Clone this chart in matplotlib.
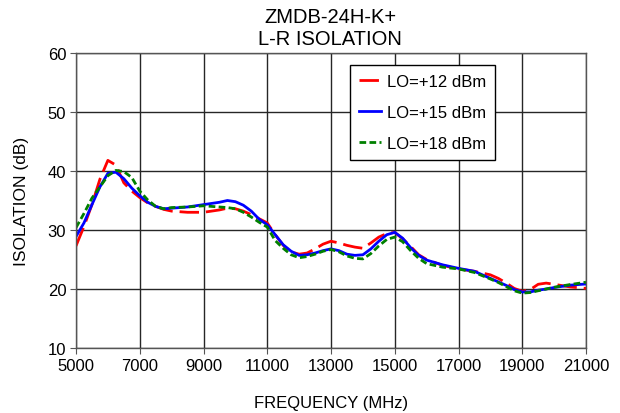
import matplotlib
matplotlib.use("Agg")
import matplotlib.pyplot as plt

plt.rcParams['font.family'] = ['Liberation Sans', 'DejaVu Sans']

freq = [5000, 5250, 5500, 5750, 6000, 6250, 6500, 6750, 7000, 7250, 7500, 7750,
        8000, 8500, 9000, 9500, 9750, 10000, 10250, 10500, 10750, 11000, 11250,
        11500, 11750, 12000, 12250, 12500, 12750, 13000, 13250, 13500, 13750,
        14000, 14250, 14500, 14750, 15000, 15250, 15500, 15750, 16000, 16500,
        17000, 17500, 18000, 18250, 18500, 18750, 19000, 19250, 19500, 19750,
        20000, 20500, 21000]

lo12 = [27.3, 30.6, 34.3, 38.6, 41.8, 41.0, 38.0, 36.6, 35.5, 34.6, 34.0, 33.5,
        33.2, 33.0, 33.0, 33.4, 33.7, 33.6, 33.2, 32.6, 31.9, 31.2, 29.2,
        27.4, 26.3, 25.9, 26.1, 26.8, 27.6, 28.1, 27.8, 27.4, 27.1,
        26.9, 27.8, 28.8, 29.4, 29.6, 28.5, 27.2, 25.8, 25.0, 24.0,
        23.4, 23.0, 22.4, 21.8, 21.0, 20.1, 19.6, 19.9, 20.8, 21.0,
        20.8, 20.35, 20.1]

lo15 = [28.9, 31.2, 34.3, 37.3, 39.6, 39.8, 38.7, 37.1, 35.8, 34.7, 34.0, 33.6,
        33.7, 33.9, 34.3, 34.7, 35.0, 34.8, 34.2, 33.2, 31.8, 30.9, 29.2,
        27.5, 26.4, 25.7, 25.8, 26.1, 26.5, 26.8, 26.5, 25.9, 25.7,
        25.8, 26.8, 28.1, 29.2, 29.6, 28.6, 27.0, 25.7, 24.9, 24.1,
        23.5, 23.0, 21.8, 21.2, 20.6, 19.9, 19.5, 19.5, 19.8, 20.0,
        20.25, 20.65, 20.85]

lo18 = [30.4, 32.8, 35.4, 37.3, 39.2, 40.1, 39.9, 38.9, 36.6, 35.1, 34.0, 33.6,
        33.8, 33.9, 34.1, 33.9, 33.8, 33.6, 33.0, 32.2, 31.3, 30.5, 28.2,
        26.9, 25.8, 25.3, 25.5, 25.9, 26.4, 26.7, 26.3, 25.6, 25.2,
        25.1, 26.0, 27.3, 28.4, 28.8, 28.0, 26.5, 25.2, 24.3, 23.7,
        23.4, 22.8, 21.7, 21.1, 20.4, 19.7, 19.3, 19.4, 19.7, 20.0,
        20.3, 20.75, 21.15]

labels = ["LO=+12 dBm", "LO=+15 dBm", "LO=+18 dBm"]
xticks = list(range(5000, 21001, 2000))
yticks = list(range(10, 61, 10))

W, H = 620, 414
fig = plt.figure(figsize=(W / 100, H / 100), dpi=100)
ax = fig.add_axes([76 / W, 1 - 349 / H, 510 / W, 295 / H])

ax.plot(freq, lo12, color='#ff0000', lw=2.0, dashes=(7, 2.5), label=labels[0])
ax.plot(freq, lo15, color='#0000ff', lw=2.0, label=labels[1])
ax.plot(freq, lo18, color='#008000', lw=2.0, dashes=(2.4, 1.2), label=labels[2])

ax.set_xlim(5000, 21000)
ax.set_ylim(10, 60)
ax.set_xticks(xticks)
ax.set_yticks(yticks)
ax.grid(True, color='#262626', lw=1.0)
ax.set_axisbelow(True)
for s in ax.spines.values():
    s.set_color('#555555')
    s.set_linewidth(1.0)
ax.tick_params(axis='both', labelsize=12, length=4, color='#555555',
               direction='out', pad=3)

ax.set_xlabel("FREQUENCY (MHz)", fontsize=12, va='baseline')
ax.xaxis.set_label_coords(0.5, (349 - 408) / 295)
ax.set_ylabel("ISOLATION (dB)", fontsize=12.5, va='center')
ax.yaxis.set_label_coords((22 - 76) / 510, 0.5)

fig.text(330 / W, 1 - 22.7 / H, "ZMDB-24H-K+", ha='center', va='baseline',
         fontsize=14.5)
fig.text(330 / W, 1 - 45 / H, "L-R ISOLATION", ha='center', va='baseline',
         fontsize=14.5)

leg = ax.legend(loc='upper left', bbox_to_anchor=((350 - 76) / 510, (349 - 66) / 295),
                fontsize=12, frameon=True, fancybox=False, edgecolor='black',
                framealpha=1, handlelength=1.3, handletextpad=0.35,
                labelspacing=0.95, borderpad=0.55, borderaxespad=0)
leg.get_frame().set_linewidth(1.0)

fig.savefig("out.png", dpi=100)
